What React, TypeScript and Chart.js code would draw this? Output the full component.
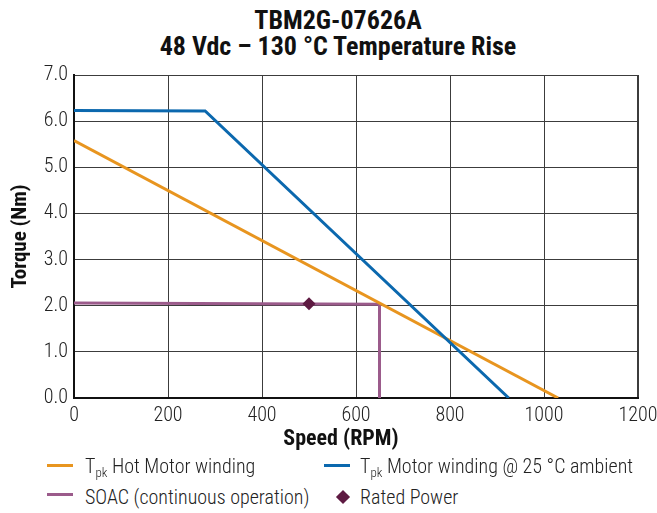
import React, { useEffect, useRef } from "react";
import { Chart, registerables } from "chart.js";

Chart.register(...registerables);

const titleLines = ["TBM2G-07626A", "48 Vdc – 130 °C Temperature Rise"];
const xTitle = "Speed (RPM)";
const yTitle = "Torque (Nm)";

const hotSpeed = [0, 1030];
const hotTorque = [5.58, 0];

const coldSpeed = [0, 279, 925];
const coldTorque = [6.23, 6.22, 0];

const soacSpeed = [0, 650, 650];
const soacTorque = [2.06, 2.03, 0];

const ratedSpeed = [500];
const ratedTorque = [2.04];

const xTicks = [0, 200, 400, 600, 800, 1000, 1200];
const yTicks = [0, 1, 2, 3, 4, 5, 6, 7];

const ORANGE = "#e8951f";
const BLUE = "#0b68ae";
const MAUVE = "#9b5b8b";
const MAROON = "#5e1a42";

const FONT = '"Roboto Condensed", Roboto, sans-serif';

const toPts = (xs: number[], ys: number[]) => xs.map((x, i) => ({ x, y: ys[i] }));

export default function App() {
  const ref = useRef<HTMLCanvasElement | null>(null);

  useEffect(() => {
    if (!ref.current) return;
    const chart = new Chart(ref.current, {
      type: "line",
      data: {
        datasets: [
          {
            label: "SOAC",
            data: toPts(soacSpeed, soacTorque),
            borderColor: MAUVE,
            borderWidth: 3,
            pointRadius: 0,
            tension: 0,
            order: 3,
          },
          {
            label: "Hot",
            data: toPts(hotSpeed, hotTorque),
            borderColor: ORANGE,
            borderWidth: 3,
            pointRadius: 0,
            tension: 0,
            order: 2,
          },
          {
            label: "Cold",
            data: toPts(coldSpeed, coldTorque),
            borderColor: BLUE,
            borderWidth: 3,
            pointRadius: 0,
            tension: 0,
            order: 1,
          },
          {
            label: "Rated Power",
            data: toPts(ratedSpeed, ratedTorque),
            showLine: false,
            pointStyle: "rectRot",
            pointRadius: 6.5,
            backgroundColor: MAROON,
            borderColor: MAROON,
            borderWidth: 0,
            order: 0,
          },
        ],
      },
      options: {
        animation: false,
        responsive: false,
        devicePixelRatio: 1,
        layout: { padding: { top: 75, right: 19, bottom: 0, left: 0 } },
        plugins: { legend: { display: false }, tooltip: { enabled: false }, title: { display: false } },
        scales: {
          x: {
            type: "linear",
            min: 0,
            max: 1200,
            afterBuildTicks: (s: any) => {
              s.ticks = xTicks.map((v) => ({ value: v }));
            },
            afterFit: (s: any) => {
              s.height = 57;
              s.paddingLeft = 0;
              s.paddingRight = 0;
            },
            ticks: {
              padding: 6,
              color: "#222",
              font: { family: FONT, size: 20, weight: "300" },
              maxRotation: 0,
              callback: (v: any) => String(v),
            },
            grid: {
              color: "#3c3c3c",
              lineWidth: (c: any) => (c.tick && c.tick.value === 1200 ? 2 : 1),
              drawTicks: false,
            },
            border: { color: "#111", width: 2 },
            title: { display: false, text: xTitle },
          },
          y: {
            type: "linear",
            min: 0,
            max: 7,
            afterBuildTicks: (s: any) => {
              s.ticks = yTicks.map((v) => ({ value: v }));
            },
            afterFit: (s: any) => {
              s.width = 74;
            },
            ticks: {
              padding: 6,
              color: "#222",
              font: { family: FONT, size: 20, weight: "300" },
              callback: (v: any) => Number(v).toFixed(1),
            },
            grid: { color: "#3c3c3c", lineWidth: 1, drawTicks: false },
            border: { color: "#111", width: 2 },
            title: {
              display: true,
              text: yTitle,
              color: "#111",
              font: { family: FONT, size: 21, weight: "bold" },
              padding: { top: 8, bottom: 0 },
            },
          },
        },
      },
    });
    return () => chart.destroy();
  }, []);

  const textStyle: React.CSSProperties = {
    fontFamily: FONT,
    fontSize: 20,
    fontWeight: 300,
    color: "#222",
    whiteSpace: "nowrap",
    lineHeight: "20px",
  };
  const subStyle: React.CSSProperties = { fontSize: 13, verticalAlign: "-4px", lineHeight: 0 };
  const lineSample = (color: string, left: number, top: number) => (
    <div style={{ position: "absolute", left, top, width: 26, height: 3, background: color }} />
  );

  return (
    <div style={{ position: "absolute", left: 0, top: 0, width: 657, height: 513, background: "#fff", overflow: "hidden" }}>
      <div
        style={{
          position: "absolute",
          left: 0,
          top: 7,
          width: 676,
          textAlign: "center",
          fontFamily: FONT,
          fontWeight: "bold",
          fontSize: 26,
          lineHeight: "26px",
          color: "#111",
        }}
      >
        <div>{titleLines[0]}</div>
        <div>{titleLines[1]}</div>
      </div>
      <canvas ref={ref} width={657} height={455} style={{ position: "absolute", left: 0, top: 0, width: 657, height: 455 }} />
      <div
        style={{
          position: "absolute",
          left: 0,
          top: 427,
          width: 682,
          textAlign: "center",
          fontFamily: FONT,
          fontWeight: "bold",
          fontSize: 22,
          lineHeight: "22px",
          color: "#111",
        }}
      >
        {xTitle}
      </div>
      {lineSample(ORANGE, 47, 464)}
      <div style={{ ...textStyle, position: "absolute", left: 85, top: 456 }}>
        T<sub style={subStyle}>pk</sub> Hot Motor winding
      </div>
      {lineSample(BLUE, 324, 464)}
      <div style={{ ...textStyle, position: "absolute", left: 360, top: 456 }}>
        T<sub style={subStyle}>pk</sub> Motor winding @ 25 °C ambient
      </div>
      {lineSample(MAUVE, 47, 493)}
      <div style={{ ...textStyle, position: "absolute", left: 85, top: 487 }}>SOAC (continuous operation)</div>
      <div
        style={{
          position: "absolute",
          left: 338,
          top: 492,
          width: 10,
          height: 10,
          background: MAROON,
          transform: "rotate(45deg)",
        }}
      />
      <div style={{ ...textStyle, position: "absolute", left: 360, top: 487 }}>Rated Power</div>
    </div>
  );
}
